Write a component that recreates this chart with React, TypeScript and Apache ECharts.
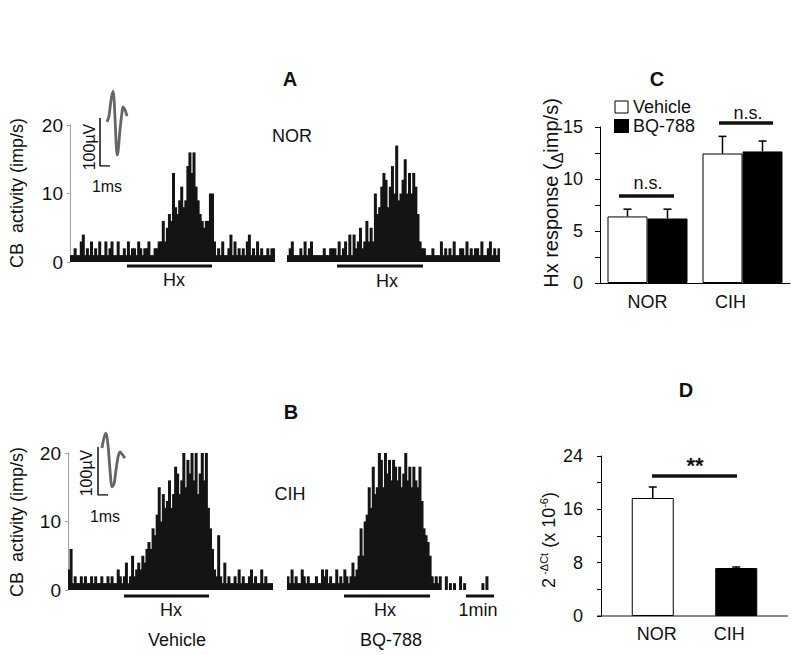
import React, { useEffect, useRef } from 'react';
import * as echarts from 'echarts';

const FONT = '"Liberation Sans", Arial, Helvetica, sans-serif';

// ---- Panel A / B : firing-rate histograms (imp/s per bin) ----
const norVehicle = [
  1, 1, 2, 1, 1, 3, 4, 1, 2, 1, 3, 1, 2, 1, 3, 1, 1, 3, 1, 2, 3, 1, 1, 3, 1, 1, 2, 1, 3, 1, 2, 2, 1, 3, 2, 1, 2, 2, 3, 1, 1, 2,
  2, 3, 3, 6, 3, 5, 7, 6, 13, 8, 7, 9, 11, 8, 9, 14, 16, 13, 16, 11, 9, 7, 6, 5, 6, 6, 10, 10, 3,
  1, 2, 1, 3, 1, 1, 2, 4, 1, 3, 1, 2, 1, 2, 1, 3, 4, 1, 2, 1, 3, 1, 2, 1, 1, 2, 1, 2, 2,
];
const norBQ788 = [
  1, 2, 3, 1, 1, 1, 2, 1, 3, 1, 2, 3, 1, 1, 1, 1, 1, 2, 1, 1, 2, 2, 2, 1, 3, 1, 2, 3,
  1, 4, 1, 4, 2, 3, 5, 2, 3, 6, 3, 5, 3, 10, 7, 8, 11, 13, 12, 8, 11, 14, 10, 17, 9, 10, 12, 15, 10, 13, 10, 13, 11, 7, 3, 2, 2,
  1, 1, 1, 2, 1, 1, 1, 3, 1, 2, 1, 2, 1, 3, 1, 1, 2, 2, 1, 3, 1, 2, 1, 2, 2, 1, 3, 1, 1, 2, 3, 1, 2, 1, 2,
];
const cihVehicle = [
  3, 6, 1, 2, 1, 1, 2, 1, 2, 1, 1, 2, 1, 2, 1, 1, 2, 1, 1, 2, 1, 2, 1, 1, 3, 2, 1,
  2, 4, 1, 2, 5, 2, 3, 4, 3, 5, 4, 6, 7, 6, 9, 8, 11, 15, 10, 14, 12, 13, 16, 12, 14, 18, 17, 14, 16, 20, 15, 19, 17, 20, 16, 20, 14, 17, 20, 16, 20, 12, 9, 6, 3, 2,
  8, 2, 1, 4, 1, 2, 1, 1, 2, 1, 3, 1, 2, 1, 1, 2, 3, 1, 2, 1, 1, 3, 1, 2, 1, 1, 1,
];
const cihBQ788 = [
  2, 1, 3, 1, 2, 1, 1, 3, 2, 1, 2, 1, 1, 1, 2, 1, 1, 3, 2, 3, 1, 2, 1, 1, 3, 1, 2, 1, 3, 2, 1,
  2, 4, 2, 3, 5, 9, 5, 10, 11, 15, 12, 18, 14, 15, 20, 19, 15, 20, 17, 19, 16, 19, 18, 16, 18, 15, 17, 20, 16, 18, 15, 18, 16, 15, 18, 13, 9, 8, 7, 5, 2,
  1, 2, 1, 2, 0, 0, 2, 0, 1, 0, 1, 0, 0, 2, 0, 1, 0, 0, 0, 0, 0, 0, 0, 0, 1, 0, 2, 0,
];

// ---- spike waveform insets (ms, µV) ----
const waveNorMs = [0.7, 0.9, 1.1, 1.3, 1.4, 1.5, 1.6, 1.7, 1.8, 2.0, 2.2, 2.3, 2.5, 2.7];
const waveNorUv = [92, 104, 137, 156, 142, 100, 54, 23, 29, 75, 112, 123, 117, 104];
const waveCihMs = [0.4, 0.6, 0.8, 1.0, 1.2, 1.4, 1.6, 1.8, 2.0, 2.2, 2.4, 2.7];
const waveCihUv = [98, 119, 129, 104, 52, 17, 23, 52, 79, 90, 85, 77];
const scaleBarMs = [1, 0, 0];
const scaleBarUv = [0, 0, 100];

// ---- Panel C ----
const groups = ['NOR', 'CIH'];
const hxVehicle = [6.4, 12.45];
const hxVehicleUpper = [7.1, 14.1];
const hxBQ788 = [6.2, 12.65];
const hxBQ788Upper = [7.1, 13.65];

// ---- Panel D ----
const ctValues = [17.7, 7.2];
const ctUpper = [19.35, 7.35];

const zip = (a: number[], b: number[]) => a.map((v, i) => [v, b[i]]);

function histSeries(data: number[], idx: number) {
  return {
    type: 'bar',
    xAxisIndex: idx,
    yAxisIndex: idx,
    data,
    barWidth: 3,
    itemStyle: { color: '#141414' },
    silent: true,
  };
}

function errorSeries(idx: number, values: number[], uppers: number[], offset: number) {
  return {
    type: 'custom',
    xAxisIndex: idx,
    yAxisIndex: idx,
    z: 5,
    data: values.map((v, i) => [i, v, uppers[i]]),
    encode: { x: 0, y: [1, 2] },
    renderItem: (_params: any, api: any) => {
      const base = api.coord([api.value(0), api.value(1)]);
      const top = api.coord([api.value(0), api.value(2)]);
      const x = base[0] + offset;
      return {
        type: 'group',
        children: [
          { type: 'line', shape: { x1: x, y1: base[1], x2: x, y2: top[1] }, style: { stroke: '#000', lineWidth: 1.5 } },
          { type: 'line', shape: { x1: x - 4, y1: top[1], x2: x + 4, y2: top[1] }, style: { stroke: '#000', lineWidth: 1.5 } },
        ],
      };
    },
  };
}

function txt(x: number, y: number, text: string, extra: any = {}, rotation = 0) {
  return {
    type: 'text',
    x,
    y,
    rotation,
    style: {
      text,
      fontFamily: FONT,
      fontSize: 18,
      fill: '#111',
      align: 'center',
      verticalAlign: 'middle',
      textAlign: 'center',
      textVerticalAlign: 'middle',
      ...extra,
    },
  };
}

function seg(x1: number, y1: number, x2: number, y2: number, w = 3) {
  return { type: 'line', shape: { x1, y1, x2, y2 }, style: { stroke: '#111', lineWidth: w } };
}

const bins = norVehicle.map((_, i) => String(i));

const histY = (grid: number, show: boolean) => ({
  type: 'value',
  gridIndex: grid,
  min: 0,
  max: 20,
  interval: 10,
  show,
  axisLine: { show: true, lineStyle: { color: '#a0a0a0', width: 1 } },
  axisTick: { show: true, length: 3, lineStyle: { color: '#a0a0a0' } },
  axisLabel: { fontFamily: FONT, fontSize: 19, color: '#111', margin: 7 },
  splitLine: { show: false },
});

const option: any = {
  animation: false,
  backgroundColor: '#fff',
  grid: [
    { left: 70, top: 125, width: 205, height: 137 },
    { left: 287, top: 125, width: 213, height: 137 },
    { left: 68, top: 453, width: 205, height: 137 },
    { left: 287, top: 453, width: 203, height: 137 },
    { left: 100, top: 88, width: 30, height: 78 },
    { left: 98, top: 425, width: 30, height: 70 },
    { left: 600, top: 127, width: 190, height: 156 },
    { left: 611, top: 456, width: 167, height: 160 },
  ],
  xAxis: [
    { type: 'category', gridIndex: 0, data: bins, show: false },
    { type: 'category', gridIndex: 1, data: bins, show: false },
    { type: 'category', gridIndex: 2, data: bins, show: false },
    { type: 'category', gridIndex: 3, data: bins, show: false },
    { type: 'value', gridIndex: 4, min: 0, max: 3, show: false },
    { type: 'value', gridIndex: 5, min: 0, max: 3, show: false },
    {
      type: 'category',
      gridIndex: 6,
      data: groups,
      axisLine: { lineStyle: { color: '#000', width: 1 } },
      axisTick: { show: false },
      axisLabel: {
        margin: 10,
        formatter: (v: string) => (v === 'CIH' ? '{r|CIH}' : '{n|NOR}'),
        rich: {
          n: { fontFamily: FONT, fontSize: 18, color: '#111' },
          r: { fontFamily: FONT, fontSize: 18, color: '#111', padding: [0, 24, 0, 0] },
        },
      },
    },
    {
      type: 'category',
      gridIndex: 7,
      data: groups,
      axisLine: { show: false },
      axisTick: { show: false },
      axisLabel: {
        margin: 9,
        formatter: (v: string) => (v === 'CIH' ? '{r|CIH}' : '{n|NOR}'),
        rich: {
          n: { fontFamily: FONT, fontSize: 18, color: '#111', padding: [0, 0, 0, 8] },
          r: { fontFamily: FONT, fontSize: 18, color: '#111', padding: [0, 14, 0, 0] },
        },
      },
    },
  ],
  yAxis: [
    histY(0, true),
    histY(1, false),
    histY(2, true),
    histY(3, false),
    { type: 'value', gridIndex: 4, min: 0, max: 162.5, show: false },
    { type: 'value', gridIndex: 5, min: 0, max: 145.83, show: false },
    {
      type: 'value',
      gridIndex: 6,
      min: 0,
      max: 15,
      interval: 2.5,
      axisLine: { show: true, lineStyle: { color: '#000', width: 1 } },
      axisTick: { show: true, length: 5, lineStyle: { color: '#000' } },
      axisLabel: {
        fontFamily: FONT,
        fontSize: 18,
        color: '#111',
        margin: 17,
        formatter: (v: number) => (Math.abs(v % 5) < 1e-9 ? String(v) : ''),
      },
      splitLine: { show: false },
    },
    {
      type: 'value',
      gridIndex: 7,
      min: 0,
      max: 24,
      interval: 4,
      offset: 10,
      axisLine: { show: true, lineStyle: { color: '#000', width: 1 } },
      axisTick: { show: true, length: 4, lineStyle: { color: '#000' } },
      axisLabel: {
        fontFamily: FONT,
        fontSize: 18,
        color: '#111',
        margin: 18,
        formatter: (v: number) => (v % 8 === 0 ? String(v) : ''),
      },
      splitLine: { show: false },
    },
  ],
  legend: {
    orient: 'vertical',
    left: 609,
    top: 93,
    itemWidth: 13,
    itemHeight: 12,
    itemGap: 1,
    selectedMode: false,
    textStyle: { fontFamily: FONT, fontSize: 18, color: '#111', lineHeight: 18 },
    data: [
      { name: 'Vehicle', icon: 'rect', itemStyle: { color: '#fff', borderColor: '#000', borderWidth: 1 } },
      { name: 'BQ-788', icon: 'rect', itemStyle: { color: '#000' } },
    ],
  },
  series: [
    histSeries(norVehicle, 0),
    histSeries(norBQ788, 1),
    histSeries(cihVehicle, 2),
    histSeries(cihBQ788, 3),
    {
      type: 'line', xAxisIndex: 4, yAxisIndex: 4, data: zip(waveNorMs, waveNorUv), symbol: 'none', smooth: 0.3,
      lineStyle: { color: '#666', width: 2.8 }, silent: true,
    },
    {
      type: 'line', xAxisIndex: 4, yAxisIndex: 4, data: zip(scaleBarMs, scaleBarUv), symbol: 'none',
      lineStyle: { color: '#111', width: 1.5 }, silent: true,
    },
    {
      type: 'line', xAxisIndex: 5, yAxisIndex: 5, data: zip(waveCihMs, waveCihUv), symbol: 'none', smooth: 0.3,
      lineStyle: { color: '#666', width: 2.8 }, silent: true,
    },
    {
      type: 'line', xAxisIndex: 5, yAxisIndex: 5, data: zip(scaleBarMs, scaleBarUv), symbol: 'none',
      lineStyle: { color: '#111', width: 1.5 }, silent: true,
    },
    {
      name: 'Vehicle', type: 'bar', xAxisIndex: 6, yAxisIndex: 6, data: hxVehicle, barWidth: 40, barGap: '0%',
      itemStyle: { color: '#fff', borderColor: '#000', borderWidth: 1 },
    },
    {
      name: 'BQ-788', type: 'bar', xAxisIndex: 6, yAxisIndex: 6, data: hxBQ788, barWidth: 40, barGap: '0%',
      itemStyle: { color: '#000', borderColor: '#000', borderWidth: 1 },
    },
    errorSeries(6, hxVehicle, hxVehicleUpper, -20),
    errorSeries(6, hxBQ788, hxBQ788Upper, 20),
    {
      type: 'bar', xAxisIndex: 7, yAxisIndex: 7, barWidth: 42,
      data: [
        { value: ctValues[0], itemStyle: { color: '#fff', borderColor: '#000', borderWidth: 1 } },
        { value: ctValues[1], itemStyle: { color: '#000', borderColor: '#000', borderWidth: 1 } },
      ],
    },
    errorSeries(7, ctValues, ctUpper, 0),
  ],
  graphic: [
    // panel titles
    txt(290, 79, 'A', { fontWeight: 'bold', fontSize: 20 }),
    txt(291, 412, 'B', { fontWeight: 'bold', fontSize: 20 }),
    txt(657, 79, 'C', { fontWeight: 'bold', fontSize: 20 }),
    txt(686, 390, 'D', { fontWeight: 'bold', fontSize: 20 }),
    // y-axis titles
    txt(17, 193, 'CB  activity (imp/s)', {}, Math.PI / 2),
    txt(17, 522, 'CB  activity (imp/s)', {}, Math.PI / 2),
    txt(551, 193, '{a|Hx response (}{d|Δ}{a|imp/s)}', {
      rich: {
        a: { fontFamily: FONT, fontSize: 20, fill: '#111', lineHeight: 28 },
        d: { fontFamily: FONT, fontSize: 16, fill: '#111', lineHeight: 16, verticalAlign: 'bottom' },
      },
    }, Math.PI / 2),
    txt(549, 540, '{a|2}{s| -ΔCt}{a| (x 10}{s|-6}{a|)}', {
      rich: {
        a: { fontFamily: FONT, fontSize: 18, fill: '#111', lineHeight: 22 },
        s: { fontFamily: FONT, fontSize: 11, fill: '#111', lineHeight: 11, verticalAlign: 'top' },
      },
    }, Math.PI / 2),
    // condition labels
    txt(292, 136, 'NOR'),
    txt(290, 494, 'CIH'),
    // Hx bars and labels
    seg(127, 266, 212, 266),
    seg(337, 266, 423, 266),
    seg(124, 596, 209, 596),
    seg(344, 596, 430, 596),
    seg(466, 596, 494, 596),
    txt(174, 280, 'Hx'),
    txt(387, 281, 'Hx'),
    txt(171, 610, 'Hx'),
    txt(385, 610, 'Hx'),
    txt(478, 610, '1min'),
    txt(177, 640, 'Vehicle'),
    txt(391, 640, 'BQ-788'),
    // inset scale labels
    txt(89, 147, '100µV', { fontSize: 16 }, Math.PI / 2),
    txt(107, 186, '1ms', { fontSize: 16 }),
    txt(86, 473, '100µV', { fontSize: 16 }, Math.PI / 2),
    txt(105, 516, '1ms', { fontSize: 16 }),
    // significance annotations
    seg(619, 196, 674, 196, 3.5),
    txt(648, 183, 'n.s.'),
    seg(719, 123, 773, 123, 3.5),
    txt(748, 113, 'n.s.'),
    seg(652, 476, 737, 476, 3.5),
    txt(695, 465, '**', { fontWeight: 'bold', fontSize: 22 }),
    // panel D baseline
    seg(597, 616, 788, 616, 1),
  ],
};

export default function App() {
  const ref = useRef<HTMLDivElement>(null);
  useEffect(() => {
    const chart = echarts.init(ref.current!, null, { renderer: 'svg' });
    chart.setOption(option);
    return () => chart.dispose();
  }, []);
  return (
    <div
      ref={ref}
      style={{ position: 'absolute', left: 0, top: 0, width: 800, height: 655, background: '#fff' }}
    />
  );
}
